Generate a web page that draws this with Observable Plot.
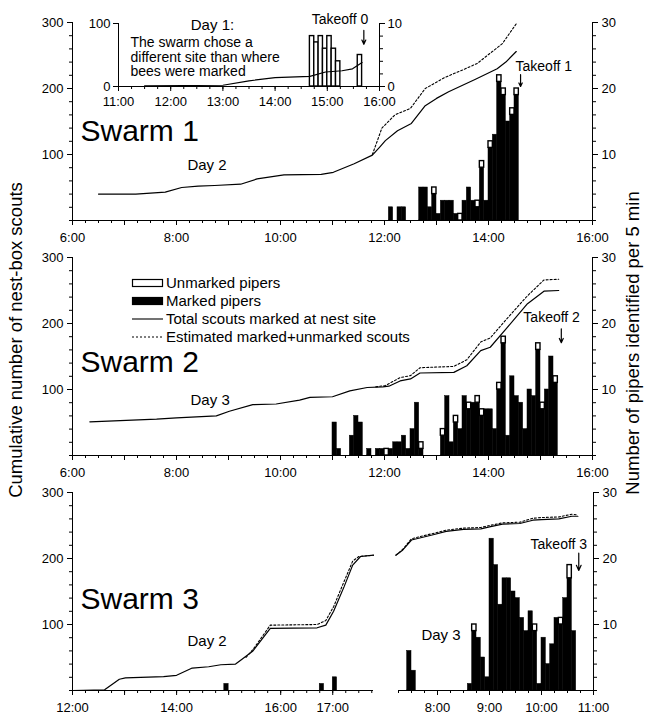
<!DOCTYPE html>
<html><head><meta charset="utf-8">
<script src="https://cdn.jsdelivr.net/npm/d3@7"></script>
<script src="https://cdn.jsdelivr.net/npm/@observablehq/plot@0.6"></script>
<style>
body{margin:0;background:#fff;}
#fig{position:relative;width:646px;height:718px;background:#fff;}
#fig > svg{position:absolute;left:0;}
</style></head><body><div id="fig"></div>
<script>
// ---------------- DATA ----------------
// Swarm 1, day 1 (inset)
const inTimes = ["11:30","13:00","13:30","14:00","14:40","14:58","15:17","15:29","15:40"];
const inTotal = [1,2,9,14,16,23,25,28,38];
const inBinTimes = ["14:40","14:45","14:50","14:55","15:00","15:05","15:10","15:35"];
const inMarked   = [0,0,0,0,0,0,0,0];
const inUnmarked = [8,7,8,6,8,6,4,5];
// Swarm 1, day 2
const s1Times = ["6:30","7:13","7:47","8:06","8:25","8:44","9:14","9:33","10:04","10:47","11:01","11:25","11:46","11:55","12:01","12:15","12:31","12:47","13:00","13:14","13:45","14:10","14:20","14:32"];
const s1Total = [40,40,43,50,52,53,55,63,69,70,73,86,99,112,121,136,147,174,185,195,214,230,240,256];
const s1EstTimes = ["11:46","11:57","12:12","12:30","12:47","13:10","13:30","13:47","14:16","14:32"];
const s1Est = [100,140,160,170,200,217,228,238,268,298];
const s1BinTimes = ["12:05","12:15","12:20","12:40","12:45","12:50","12:55","13:00","13:05","13:10","13:15","13:20","13:25","13:30","13:35","13:40","13:45","13:50","13:55","14:00","14:05","14:10","14:15","14:20","14:25","14:30"];
const s1Marked   = [2,2,2,5,5,2,4,1,3,3,3,1,0,3,5,3,2,8,3,11,13,21,19,15,16,19];
const s1Unmarked = [0,0,0,0,0,0,1,0,0,0,0,0,1,0,0,0,1,1,0,1,0,1,1,0,1,1];
// Swarm 2, day 3
const s2Times = ["6:20","7:37","8:00","8:46","9:01","9:28","9:55","10:22","10:34","11:00","11:20","11:40","11:58","12:05","12:18","12:30","12:41","13:20","13:35","13:51","14:02","14:21","14:45","15:04","15:21"];
const s2Total = [51,55,57,60,67,77,78,84,88,89,98,103,104,105,113,116,125,126,136,159,164,193,230,249,250];
const s2EstTimes = ["11:50","12:01","12:18","12:30","12:41","13:20","13:35","13:51","14:02","14:21","14:45","15:04","15:21"];
const s2Est = [104,106,118,121,133,135,145,172,178,207,242,266,267];
const s2BinTimes = ["11:00","11:05","11:20","11:25","11:30","11:40","11:50","11:55","12:00","12:05","12:10","12:15","12:20","12:25","12:30","12:35","12:40",
  "13:05","13:10","13:15","13:20","13:25","13:30","13:35","13:40","13:45","13:50","13:55","14:00","14:05","14:10","14:15","14:20","14:25","14:30","14:35","14:40","14:45","14:50","14:55","15:00","15:05","15:10","15:15"];
const s2Marked   = [5,1,3,6,5,1,1,1,0,1,2,2,3,1,4,8,1,
  3,9,2,5,4,9,7,8,8,6,7,7,4,10,17,3,12,9,8,4,10,9,16,7,10,15,11];
const s2Unmarked = [0,0,0,0,0,0,0,0,1,0,0,0,0,0,0,0,1,
  1,0,0,1,0,0,1,0,1,1,0,0,0,1,1,0,0,0,0,0,0,0,1,1,0,0,1];
// Swarm 3, day 2
const s3aTimes = ["12:00","12:37","12:54","13:01","13:45","14:00","14:18","14:37","14:51","15:08","15:15","15:28","15:48","16:42","16:52","17:01","17:13","17:23","17:32","17:47"];
const s3aTotal = [0,1,17,19,21,23,34,36,39,40,47,60,94,95,99,120,157,190,203,205];
const s3aEstTimes = ["15:20","15:28","15:48","16:42","16:52","17:01","17:13","17:23","17:30","17:47"];
const s3aEst = [50,62,99,100,106,127,165,196,203,205];
const s3aBinTimes = ["14:55","16:45","17:00"];
const s3aMarked = [1,1,2];
const s3aUnmarked = [0,0,0];
// Swarm 3, day 3
const s3bTimes = ["7:12","7:20","7:30","7:55","8:10","8:30","8:50","9:00","9:15","9:35","9:50","10:00","10:20","10:35","10:42"];
const s3bTotal = [205,213,228,236,241,244,245,248,252,253,258,259,260,264,264];
const s3bEst =   [205,214,230,238,243,246,247,250,254,255,261,262,263,267,266];
const s3bBinTimes = ["7:25","7:30","8:35","8:40","8:45","8:50","8:55","9:00","9:05","9:10","9:15","9:20","9:25","9:30","9:35","9:40","9:45","9:50","9:55","10:00","10:05","10:10","10:15","10:20","10:25","10:30","10:35"];
const s3bMarked   = [6,3,1,9,8,5,2,23,19,13,17,17,15,14,11,9,12,9,1,8,4,7,11,10,14,17,9];
const s3bUnmarked = [0,0,0,1,0,0,0,0,0,0,0,0,0,0,0,0,0,1,0,0,0,0,0,1,0,2,0];
// takeoffs
const takeoffNames = ["Takeoff 0","Takeoff 1","Takeoff 2","Takeoff 3"];
const takeoffTimes = ["15:42","14:37","15:24","10:43"];
// tick label sets
const leftTickLabels = [100,200,300];
const rightTickLabels = [10,20,30];
const legendLabels = ["Unmarked pipers","Marked pipers","Total scouts marked at nest site","Estimated marked+unmarked scouts"];

// ---------------- HELPERS ----------------
const FONT = "'Liberation Sans', Arial, Helvetica, sans-serif";
const hm = s => { const [h, m] = s.split(":").map(Number); return h + m / 60; };
const fmt = d => { const h = Math.floor(d + 1e-6); const m = Math.round((d - h) * 60); return `${h}:${String(m).padStart(2, "0")}`; };
const BIN = 5 / 60;
const seq = (a, b, step) => d3.range(Math.round((b - a) / step) + 1).map(i => +(a + i * step).toFixed(6));
const series = (times, values) => times.map((t, i) => ({x: hm(t), y: values[i]}));
const bins = (times, marked, unmarked) => times.map((t, i) => ({x1: hm(t), x2: hm(t) + BIN, m: marked[i] * 10, u: (marked[i] + unmarked[i]) * 10, hasU: unmarked[i] > 0}));
const style = {background: "transparent", fontFamily: FONT, fontSize: "13px", color: "black", overflow: "visible"};

function barMarks(b) {
  return [
    Plot.rect(b.filter(d => d.m > 0), {x1: "x1", x2: "x2", y1: 0, y2: "m", fill: "black", stroke: "black", strokeWidth: 0.5, inset: 0}),
    Plot.rect(b.filter(d => d.hasU), {x1: "x1", x2: "x2", y1: "m", y2: "u", fill: "white", stroke: "black", strokeWidth: 1.4, inset: 0})
  ];
}
function xAxes(minor, major, labeled) {
  return [
    Plot.axisX({ticks: minor, tickSize: 3, tickFormat: () => "", label: null, strokeWidth: 1}),
    Plot.axisX({ticks: major, tickSize: 5, tickFormat: () => "", label: null, strokeWidth: 1}),
    Plot.axisX({ticks: labeled, tickSize: 0, tickPadding: 12, tickFormat: fmt, label: null})
  ];
}
function yLeft() {
  return [
    Plot.axisY({anchor: "left", ticks: seq(0, 300, 20), tickSize: 3, tickFormat: () => "", label: null}),
    Plot.axisY({anchor: "left", ticks: leftTickLabels, tickSize: 5, tickPadding: 4, tickFormat: d => String(d), label: null})
  ];
}
function yRight() {
  return [
    Plot.axisY({anchor: "right", ticks: seq(0, 300, 20), tickSize: 3, tickFormat: () => "", label: null}),
    Plot.axisY({anchor: "right", ticks: rightTickLabels.map(d => d * 10), tickSize: 5, tickPadding: 4, tickFormat: d => String(d / 10), label: null})
  ];
}
const solid = (data) => Plot.line(data, {x: "x", y: "y", stroke: "black", strokeWidth: 1.2});
const dotted = (data) => Plot.line(data, {x: "x", y: "y", stroke: "black", strokeWidth: 1.1, strokeDasharray: "2,2"});
const label = (text, x, y, size, anchor = "start") => Plot.text([text], {x: [x], y: [y], text: d => d, textAnchor: anchor, lineAnchor: "bottom", fontSize: size, fill: "black"});
const arrow = (t, y1, y2) => Plot.arrow([t], {x1: d => hm(d), x2: d => hm(d), y1: [y1], y2: [y2], stroke: "black", strokeWidth: 1.2, headLength: 7, headAngle: 50});

const fig = document.getElementById("fig");
function place(svg, top) { svg.style.top = top + "px"; svg.style.position = "absolute"; svg.style.left = "0px"; fig.appendChild(svg); }

// ---------------- PANEL 1 ----------------
place(Plot.plot({
  width: 646, height: 250, marginLeft: 72, marginRight: 54, marginTop: 22, marginBottom: 30,
  x: {domain: [6, 16]}, y: {domain: [0, 300]}, style,
  marks: [
    ...xAxes(seq(6, 16, 0.25), seq(6, 16, 1), seq(6, 16, 2)), ...yLeft(), ...yRight(),
    ...barMarks(bins(s1BinTimes, s1Marked, s1Unmarked)),
    solid(series(s1Times, s1Total)), dotted(series(s1EstTimes, s1Est)),
    Plot.ruleX([6, 16], {stroke: "black"}), Plot.ruleY([0], {stroke: "black"}),
    label("Swarm 1", 6.154, 121, 30), label("Day 2", 8.21, 77, 15),
    label(takeoffNames[1], 14.52, 227, 14), arrow(takeoffTimes[1], 221, 203)
  ]
}), 0);

// inset (day 1)
place(Plot.plot({
  width: 646, height: 112, marginLeft: 118, marginRight: 267, marginTop: 23, marginBottom: 26,
  x: {domain: [11, 16]}, y: {domain: [0, 100]}, style,
  marks: [
    Plot.axisX({ticks: seq(11, 16, 0.25), tickSize: 3, tickFormat: () => "", label: null}),
    Plot.axisX({ticks: seq(11, 16, 1), tickSize: 5, tickPadding: 5, tickFormat: fmt, label: null}),
    Plot.axisY({anchor: "left", ticks: [0, 100], tickSize: 5, tickPadding: 3, tickFormat: d => String(d), label: null}),
    Plot.axisY({anchor: "right", ticks: seq(0, 100, 20), tickSize: 3, tickFormat: () => "", label: null}),
    Plot.axisY({anchor: "right", ticks: [0, 100], tickSize: 5, tickPadding: 3, tickFormat: d => String(d / 10), label: null}),
    ...barMarks(bins(inBinTimes, inMarked, inUnmarked)),
    solid(series(inTimes, inTotal)),
    Plot.ruleX([11, 16], {stroke: "black"}), Plot.ruleY([0], {stroke: "black"}),
    label("Day 1:", 12.8, 90, 15, "middle"),
    label("The swarm chose a", 11.23, 62, 14),
    label("different site than where", 11.23, 39, 14),
    label("bees were marked", 11.23, 16, 14),
    label(takeoffNames[0], 14.7, 100, 14), arrow(takeoffTimes[0], 89, 67)
  ]
}), 0);

// ---------------- PANEL 2 ----------------
place(Plot.plot({
  width: 646, height: 250, marginLeft: 72, marginRight: 54, marginTop: 22, marginBottom: 30,
  x: {domain: [6, 16]}, y: {domain: [0, 300]}, style,
  marks: [
    ...xAxes(seq(6, 16, 0.25), seq(6, 16, 1), seq(6, 16, 2)), ...yLeft(), ...yRight(),
    ...barMarks(bins(s2BinTimes, s2Marked, s2Unmarked)),
    solid(series(s2Times, s2Total)), dotted(series(s2EstTimes, s2Est)),
    Plot.ruleX([6, 16], {stroke: "black"}), Plot.ruleY([0], {stroke: "black"}),
    label("Swarm 2", 6.154, 126, 30), label("Day 3", 8.27, 76, 15),
    label(takeoffNames[2], 14.67, 203, 14), arrow(takeoffTimes[2], 192, 171)
  ]
}), 235);

// ---------------- PANEL 3 ----------------
place(Plot.plot({
  width: 646, height: 250, marginLeft: 72, marginRight: 273, marginTop: 22, marginBottom: 30,
  x: {domain: [12, 17.783]}, y: {domain: [0, 300]}, style,
  marks: [
    ...xAxes(seq(12, 17.75, 0.25), seq(12, 17, 1), [12, 14, 16, 17]), ...yLeft(),
    ...barMarks(bins(s3aBinTimes, s3aMarked, s3aUnmarked)),
    solid(series(s3aTimes, s3aTotal)), dotted(series(s3aEstTimes, s3aEst)),
    Plot.ruleX([12], {stroke: "black"}), Plot.ruleY([0], {stroke: "black"}),
    label("Swarm 3", 12.154, 123, 30), label("Day 2", 14.21, 67, 15)
  ]
}), 470);
place(Plot.plot({
  width: 646, height: 250, marginLeft: 398, marginRight: 53, marginTop: 22, marginBottom: 30,
  x: {domain: [7.25, 11]}, y: {domain: [0, 300]}, style,
  marks: [
    ...xAxes(seq(7.25, 11, 0.25), [8, 9, 10, 11], [8, 9, 10, 11]), ...yRight(),
    ...barMarks(bins(s3bBinTimes, s3bMarked, s3bUnmarked)),
    solid(series(s3bTimes, s3bTotal)), dotted(series(s3bTimes, s3bEst)),
    Plot.ruleX([11], {stroke: "black"}), Plot.ruleY([0], {stroke: "black"}),
    label("Day 3", 7.69, 76, 15),
    label(takeoffNames[3], 9.79, 214, 14), arrow(takeoffTimes[3], 208, 182)
  ]
}), 470);

// ---------------- LEGEND & AXIS TITLES ----------------
const ov = d3.select(fig).append("svg").attr("width", 646).attr("height", 718)
  .style("position", "absolute").style("left", "0px").style("top", "0px")
  .style("font-family", FONT);
const lg = ov.append("g").attr("transform", "translate(132,283)");
legendLabels.forEach((t, i) => {
  const g = lg.append("g").attr("transform", `translate(0,${i * 18})`);
  if (i < 2) g.append("rect").attr("x", 0.5).attr("y", -3.5).attr("width", 30).attr("height", 7)
    .attr("fill", i === 0 ? "white" : "black").attr("stroke", "black").attr("stroke-width", 1.2);
  else g.append("line").attr("x1", 0).attr("x2", 31).attr("y1", 0).attr("y2", 0)
    .attr("stroke", "black").attr("stroke-width", 1.1).attr("stroke-dasharray", i === 3 ? "2,2" : null);
  g.append("text").attr("x", 34).attr("y", 5).attr("font-size", 15).text(t);
});
ov.append("text").attr("transform", "translate(22,340) rotate(-90)").attr("text-anchor", "middle")
  .attr("font-size", 18.5).text("Cumulative number of nest-box scouts");
ov.append("text").attr("transform", "translate(639,343) rotate(-90)").attr("text-anchor", "middle")
  .attr("font-size", 18.5).text("Number of pipers identified per 5 min");
</script></body></html>
